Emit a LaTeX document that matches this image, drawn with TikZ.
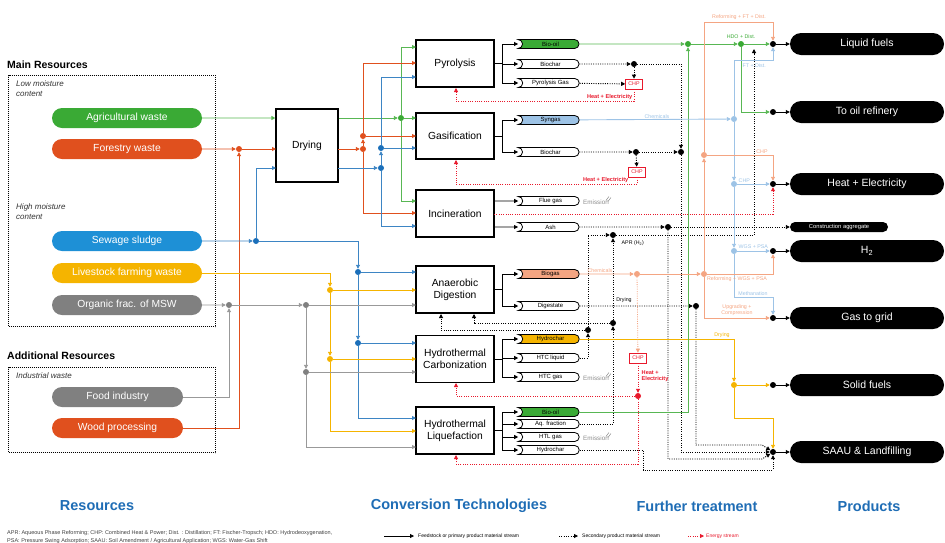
\documentclass[tikz,border=0pt]{standalone}
\usepackage{fontspec}
\setmainfont{Liberation Sans}
\usetikzlibrary{arrows.meta,shapes.misc}
\definecolor{cgreen}{HTML}{3AAA35}
\definecolor{cred}{HTML}{E0501E}
\definecolor{cblue}{HTML}{1B6FBA}
\definecolor{csew}{HTML}{1E90D6}
\definecolor{cyel}{HTML}{F5B400}
\definecolor{cgray}{HTML}{808080}
\definecolor{clblue}{HTML}{9DC3E6}
\definecolor{csalm}{HTML}{F4A582}
\definecolor{cenergy}{HTML}{E8192C}
\definecolor{ctitle}{HTML}{1F6DB5}
\tikzset{
 res/.style={rounded rectangle, minimum width=150pt, minimum height=20pt, inner sep=0pt, text=white, font=\fontsize{10.3}{12}\selectfont},
 conv/.style={draw, line width=1.2pt, minimum width=78pt, minimum height=47pt, align=center, inner sep=1pt, font=\fontsize{10.3}{12}\selectfont},
 opill/.style={rounded rectangle, rounded rectangle left arc=concave, draw, line width=0.8pt, minimum width=61pt, minimum height=9pt, inner sep=0pt, font=\fontsize{6}{7}\selectfont},
 prod/.style={rounded rectangle, fill=black, text=white, minimum width=154pt, minimum height=22pt, inner sep=0pt, font=\fontsize{10.5}{12}\selectfont},
 jdot/.style={circle, fill=#1, inner sep=0pt, minimum size=6pt},
 jdot/.default=black,
 hd/.style={font=\bfseries\fontsize{10.5}{12}\selectfont, inner sep=0pt},
 dbox/.style={draw, line width=1pt, dash pattern=on 1pt off 1pt, inner sep=0pt},
 itl/.style={font=\itshape\fontsize{8}{10}\selectfont, align=left, inner sep=0pt, text=black!80},
 ttl/.style={font=\bfseries\fontsize{14.5}{16}\selectfont, text=ctitle},
 tl/.style={font=\fontsize{5.3}{6}\selectfont, inner sep=0.5pt},
 chpbox/.style={draw=cenergy, text=cenergy, fill=white, line width=0.6pt, font=\fontsize{5.3}{6}\selectfont, minimum width=17pt, minimum height=10pt, inner sep=1pt},
 lgreen/.style={draw=cgreen!85, line width=0.9pt},
 lred/.style={draw=cred, line width=0.9pt},
 lblue/.style={draw=cblue!85, line width=0.9pt},
 lyel/.style={draw=cyel, line width=0.9pt},
 lgray/.style={draw=cgray!80, line width=0.9pt},
 llb/.style={draw=clblue, line width=0.9pt},
 lsal/.style={draw=csalm, line width=0.9pt},
 lsec/.style={draw=black, line width=0.9pt, dash pattern=on 1pt off 1.3pt},
 lenergy/.style={draw=cenergy, line width=0.8pt, dash pattern=on 1pt off 1.3pt},
 lmain/.style={draw=black, line width=0.8pt},
 etxt/.style={text=cenergy, font=\bfseries\fontsize{5.6}{6.2}\selectfont, inner sep=0.5pt},
}
\begin{document}
\begin{tikzpicture}[x=1pt,y=-1pt,>={Triangle[length=4pt,width=4pt]}]
\useasboundingbox (0,0) rectangle (945,542);

% ---------- Resources ----------
\node[hd, anchor=west] (tmain) at (7,65) {Main Resources};
\node[dbox, minimum width=207pt, minimum height=251pt, anchor=north west] (mainbox) at (8,75) {};
\node[itl, anchor=north west] (lowm) at (16,80) {Low moisture\\content};
\node[itl, anchor=north west] (highm) at (16,203) {High moisture\\content};
\node[res, fill=cgreen] (agri) at (127,118) {Agricultural waste};
\node[res, fill=cred] (forest) at (127,149) {Forestry waste};
\node[res, fill=csew] (sew) at (127,241) {Sewage sludge};
\node[res, fill=cyel] (live) at (127,273) {Livestock farming waste};
\node[res, fill=cgray] (msw) at (127,305) {Organic frac. of MSW};
\node[hd, anchor=west] (tadd) at (7,356) {Additional Resources};
\node[dbox, minimum width=207pt, minimum height=85pt, anchor=north west] (addbox) at (8,367) {};
\node[itl, anchor=north west] (indw) at (16,372) {Industrial waste};
\node[res, fill=cgray, minimum width=131pt] (food) at (117.5,397) {Food industry};
\node[res, fill=cred, minimum width=131pt] (wood) at (117.5,428) {Wood processing};

% ---------- Conversion boxes ----------
\node[conv, minimum width=62pt, minimum height=73pt] (dry) at (307,145.5) {Drying};
\node[conv] (pyr) at (455,63.5) {Pyrolysis};
\node[conv, minimum height=46pt] (gas) at (455,136) {Gasification};
\node[conv] (inc) at (455,213.5) {Incineration};
\node[conv] (ad) at (455,289.5) {Anaerobic\\Digestion};
\node[conv] (htc) at (455,359) {Hydrothermal\\Carbonization};
\node[conv] (htl) at (455,430.5) {Hydrothermal\\Liquefaction};

% ---------- input routing ----------
% green
\draw[lgreen,->] (agri) -- (agri -| dry.west);
\node[jdot=cgreen] (gd1) at (401,118) {};
\draw[lgreen,->] (dry.east |- gd1) -- (gd1);
\draw[lgreen] (401,47) -- (gd1) -- (401,201);
\draw[lgreen,->] (401,47) -- (416,47);
\draw[lgreen,->] (gd1) -- (416,118);
\draw[lgreen,->] (401,201) -- (416,201);
% red
\node[jdot=cred] (rd0) at (239,149) {};
\draw[lred,->] (forest) -- (rd0);
\draw[lred,->] (wood) -| (rd0);
\draw[lred,->] (rd0) -- (276,149);
\node[jdot=cred] (rd1) at (363,149) {};
\node[jdot=cred] (rd2) at (363,136) {};
\draw[lred,->] (338,149) -- (rd1);
\draw[lred,->] (rd1) -- (rd2);
\draw[lred] (363,63) -- (rd2);
\draw[lred] (rd1) -- (363,213);
\draw[lred,->] (363,63) -- (416,63);
\draw[lred,->] (rd2) -- (416,136);
\draw[lred,->] (363,213) -- (416,213);
% blue
\node[jdot=cblue] (bd0) at (256,241) {};
\draw[lblue,->] (sew) -- (bd0);
\draw[lblue,->] (bd0) |- (276,168);
\node[jdot=cblue] (bd1) at (381,168) {};
\node[jdot=cblue] (bd2) at (381,148) {};
\draw[lblue,->] (338,168) -- (bd1);
\draw[lblue,->] (bd1) -- (bd2);
\draw[lblue] (381,77) -- (bd2);
\draw[lblue] (bd1) -- (381,226);
\draw[lblue,->] (381,77) -- (416,77);
\draw[lblue,->] (bd2) -- (416,148);
\draw[lblue,->] (381,226) -- (416,226);
\node[jdot=cblue] (bd3) at (358,272) {};
\node[jdot=cblue] (bd4) at (358,343) {};
\draw[lblue,->] (bd0) -| (bd3);
\draw[lblue,->] (bd3) -- (416,272);
\draw[lblue,->] (bd3) -- (bd4);
\draw[lblue,->] (bd4) -- (416,343);
\draw[lblue,->] (bd4) |- (416,418);
% yellow
\node[jdot=cyel] (yd1) at (330,290) {};
\node[jdot=cyel] (yd2) at (330,359) {};
\draw[lyel,->] (live) -| (yd1);
\draw[lyel,->] (yd1) -- (416,290);
\draw[lyel,->] (yd1) -- (yd2);
\draw[lyel,->] (yd2) -- (416,359);
\draw[lyel,->] (yd2) |- (416,431);
% gray
\node[jdot=cgray] (gy0) at (229,305) {};
\node[jdot=cgray] (gy1) at (306,305) {};
\node[jdot=cgray] (gy2) at (306,372) {};
\draw[lgray,->] (msw) -- (gy0);
\draw[lgray,->] (food) -| (gy0);
\draw[lgray,->] (gy0) -- (gy1);
\draw[lgray,->] (gy1) -- (416,305);
\draw[lgray,->] (gy1) -- (gy2);
\draw[lgray,->] (gy2) -- (416,372);
\draw[lgray,->] (gy2) |- (416,447);

% ---------- output pills ----------
\node[opill, fill=cgreen] (bio1) at (550.5,44) {Bio-oil};
\node[opill] (bch1) at (550.5,64) {Biochar};
\node[opill] (pgas) at (550.5,83) {Pyrolysis Gas};
\node[opill, fill=clblue] (syn) at (550.5,120) {Syngas};
\node[opill] (bch2) at (550.5,152) {Biochar};
\node[opill] (flue) at (550.5,201) {Flue gas};
\node[opill] (ash) at (550.5,227) {Ash};
\node[opill, fill=csalm] (biogas) at (550.5,274) {Biogas};
\node[opill] (dig) at (550.5,306) {Digestate};
\node[opill, fill=cyel] (hch1) at (550.5,339) {Hydrochar};
\node[opill] (htcl) at (550.5,358) {HTC liquid};
\node[opill] (htcg) at (550.5,377) {HTC gas};
\node[opill, fill=cgreen] (bio2) at (550.5,412) {Bio-oil};
\node[opill] (aq) at (550.5,424) {Aq. fraction};
\node[opill] (htlg) at (550.5,437) {HTL gas};
\node[opill] (hch2) at (550.5,450) {Hydrochar};

\draw[lmain,->] (pyr.east) -- ++(8,0) |- (bio1);
\draw[lmain,->] (pyr.east) -- ++(8,0) |- (bch1);
\draw[lmain,->] (pyr.east) -- ++(8,0) |- (pgas);
\draw[lmain,->] (gas.east) -- ++(8,0) |- (syn);
\draw[lmain,->] (gas.east) -- ++(8,0) |- (bch2);
\draw[lmain,->] (flue -| inc.east) -- (flue);
\draw[lmain,->] (ash -| inc.east) -- (ash);
\draw[lmain,->] (ad.east) -- ++(8,0) |- (biogas);
\draw[lmain,->] (ad.east) -- ++(8,0) |- (dig);
\draw[lmain,->] (htc.east) -- ++(8,0) |- (hch1);
\draw[lmain,->] (htc.east) -- ++(8,0) |- (htcl);
\draw[lmain,->] (htc.east) -- ++(8,0) |- (htcg);
\draw[lmain,->] (htl.east) -- ++(8,0) |- (bio2);
\draw[lmain,->] (htl.east) -- ++(8,0) |- (aq);
\draw[lmain,->] (htl.east) -- ++(8,0) |- (htlg);
\draw[lmain,->] (htl.east) -- ++(8,0) |- (hch2);

% ---------- products ----------
\node[prod] (liq) at (867,44) {Liquid fuels};
\node[prod] (ref) at (867,112) {To oil refinery};
\node[prod] (he) at (867,184) {Heat + Electricity};
\node[rounded rectangle, fill=black, text=white, minimum width=98pt, minimum height=10pt, inner sep=0pt, font=\fontsize{5.8}{6}\selectfont] (cagg) at (839,227) {Construction aggregate};
\node[prod] (h2) at (867,251) {H\textsubscript{2}};
\node[prod] (gtg) at (867,318) {Gas to grid};
\node[prod] (sol) at (867,385) {Solid fuels};
\node[prod] (saau) at (867,452) {SAAU \& Landfilling};
\foreach \n/\y in {liq/44,ref/112,he/184,h2/251,gtg/318,sol/385,saau/452}{
  \node[jdot] (d\n) at (773,\y) {};
  \draw[lmain,->] (d\n) -- (\n);
}

% ---------- CHP & energy ----------
\node[chpbox] (chp1) at (634,84) {CHP};
\node[chpbox] (chp2) at (637,172) {CHP};
\node[chpbox] (chp3) at (638,358) {CHP};
\node[jdot] (kd1) at (634,64) {};
\node[jdot] (kd2) at (681,152) {};
\node[jdot] (kd3) at (636,152) {};
\draw[lsec,->] (bch1) -- (kd1);
\draw[lsec,->] (pgas) -- (chp1);
\draw[lsec,->] (kd1) -- (chp1);
\draw[lsec,->] (kd1) -| (kd2);
\draw[lsec,->] (bch2) -- (kd3);
\draw[lsec,->] (kd3) -- (kd2);
\draw[lsec,->] (kd3) -- (chp2);
\draw[lenergy,->] (chp1.south) |- (456,101) -- (456,88);
\node[etxt, anchor=east] (he1) at (633,97) {Heat + Electricity};
\draw[lenergy,->] (chp2.south) |- (456,184) -- (456,160);
\node[etxt, anchor=east] (he2) at (629,180) {Heat + Electricity};
\draw[lenergy,->] (494,214) -| (dhe);

% emissions
\foreach \e/\y in {em1/201,em2/377,em3/437}{
  \node[font=\fontsize{6.3}{7}\selectfont, text=black!45, anchor=west, inner sep=0pt] (\e) at (583,\y+1) {Emission};
  \draw[black!45, line width=0.5pt] (\e.north east) ++(-3,1) -- ++(3,-4);
  \draw[black!45, line width=0.5pt] (\e.north east) ++(-1,2) -- ++(3,-4);
}

% ash & APR
\node[jdot] (kd4) at (668,227) {};
\draw[lsec,->] (ash) -- (kd4);
\draw[lsec,->] (kd4) -- (cagg);
\node[jdot] (kd5) at (613,235) {};
\node[jdot] (kd6) at (588,330) {};
\node[jdot] (kd7) at (613,323) {};
\draw[lsec,->] (htcl) -| (kd6);
\draw[lsec,->] (kd6) |- (kd5);
\draw[lsec,->] (aq) -| (kd7);
\draw[lsec,->] (kd7) -- (kd5);
\draw[lsec,->] (kd6) -- (441,330) -- (441,314);
\draw[lsec,->] (kd7) -- (474,323) -- (474,314);
\node[tl, anchor=west] (apr) at (621,243) {APR (H\textsubscript{2})};
\coordinate (aprend) at (754,49);
\draw[lsec,->] (kd5) -| (aprend);

% digestate
\node[jdot] (kdig) at (696,306) {};
\draw[lsec,->] (dig) -- (kdig);
\node[tl] (dry2) at (624,300) {Drying};

% to SAAU
\draw[lsec,->] (kdig) |- (762,445) -- (dsaau);
\draw[lsec,->] (kd2) |- (dsaau);
\draw[lsec,->] (kd4) |- (762,459) -- (dsaau);
\draw[lsec,->] (hch2) -| (643,470) -| (dsaau);

% yellow hydrochar
\node[jdot=cyel] (yd3) at (734,385) {};
\draw[lyel,->] (hch1) -| (yd3);
\node[tl, text=cyel, anchor=south] (dry3) at (722,338) {Drying};
\draw[lyel,->] (yd3) -- (dsol);
\draw[lyel,->] (yd3) |- (773,418) -- (dsaau);

% green bio-oil
\node[jdot=cgreen] (gd2) at (688,44) {};
\node[jdot=cgreen] (gd3) at (741,44) {};
\draw[lgreen,->] (bio1) -- (gd2);
\draw[lgreen,->] (bio2) -| (gd2);
\draw[lgreen,->] (gd2) -- (gd3);
\draw[lgreen,->] (gd3) -- (dliq);
\draw[lgreen,->] (gd3) |- (dref);
\node[tl, text=cgreen, anchor=south] (hdo) at (741,39) {HDO + Dist.};

% light blue syngas
\node[jdot=clblue] (lb1) at (734,119) {};
\node[jdot=clblue] (lb2) at (734,184) {};
\node[jdot=clblue] (lb3) at (734,251) {};
\draw[llb,->] (syn) -- (lb1);
\node[tl, text=clblue, anchor=south] (chem1) at (657,119) {Chemicals};
\draw[llb,->] (lb1) |- (773,60) -- (dliq);
\node[tl, text=clblue, anchor=west] (ftd) at (742,66) {FT + Dist.};
\draw[llb,->] (lb1) -- (lb2);
\draw[llb,->] (lb2) -- (dhe);
\node[tl, text=clblue, anchor=south west] (chp4) at (738,183) {CHP};
\draw[llb,->] (lb2) -- (lb3);
\draw[llb,->] (lb3) -- (dh2);
\node[tl, text=clblue, anchor=south west] (wgs) at (738,249) {WGS + PSA};
\draw[llb,->] (lb3) |- (773,297) -- (dgtg);
\node[tl, text=clblue, anchor=south] (meth) at (753,296) {Methanation};

% salmon biogas
\node[jdot=csalm] (sd1) at (637,274) {};
\node[jdot=csalm] (sd2) at (704,274) {};
\node[jdot=csalm] (sd3) at (704,155) {};
\draw[lsal,->] (biogas) -- (sd1);
\node[tl, text=csalm, anchor=south] (chem2) at (600,273) {Chemicals};
\draw[lsal,->] (sd1) -- (sd2);
\draw[lsal,->] (sd2) -- (sd3);
\draw[lsal,->] (sd3) |- (773,22) -- (dliq);
\node[tl, text=csalm, anchor=south] (rfd) at (739,20) {Reforming + FT + Dist.};
\draw[lsal,->] (sd3) -| (dhe);
\node[tl, text=csalm, anchor=south] (chp5) at (762,154) {CHP};
\draw[lsal,->] (sd2) -| (dh2);
\node[tl, text=csalm, anchor=north] (rwp) at (737,276) {Reforming + WGS + PSA};
\draw[lsal,->] (sd2) |- (dgtg);
\node[tl, text=csalm, anchor=south, align=center, font=\fontsize{5.3}{5.3}\selectfont] (upg) at (737,316) {Upgrading +\\Compression};
\draw[draw=csalm, line width=0.8pt, dash pattern=on 1pt off 1.3pt, ->] (sd1) -- (chp3);

% HTC/HTL energy
\node[jdot=cenergy] (ed1) at (638,396) {};
\draw[lenergy,->] (chp3) -- (ed1);
\node[etxt, anchor=west, align=left] (he3) at (641,376) {Heat +\\Electricity};
\draw[lenergy,->] (ed1) -- (456,396) -- (456,383);
\draw[lenergy,->] (ed1) |- (456,464) -- (456,455);

% ---------- titles ----------
\node[ttl] (t1) at (97,506) {Resources};
\node[ttl] (t2) at (459,506) {Conversion Technologies};
\node[ttl] (t3) at (697,506) {Further treatment};
\node[ttl] (t4) at (869,506) {Products};

% footnote
\node[anchor=west, inner sep=0pt, font=\fontsize{5.5}{6}\selectfont, text=black!75] (fn1) at (7,533) {APR: Aqueous Phase Reforming; CHP: Combined Heat \& Power; Dist. : Distillation; FT: Fischer-Tropsch; HDO: Hydrodeoxygenation,};
\node[anchor=west, inner sep=0pt, font=\fontsize{5.5}{6}\selectfont, text=black!75] (fn2) at (7,541) {PSA: Pressure Swing Adsorption; SAAU: Soil Amendment / Agricultural Application; WGS: Water-Gas Shift};

% legend
\coordinate (la1) at (384,536); \coordinate (la2) at (414,536);
\draw[lmain,->] (la1) -- (la2);
\node[anchor=west, inner sep=0pt, font=\fontsize{5}{6}\selectfont] (lt1) at (418,536) {Feedstock or primary product material stream};
\coordinate (lb1a) at (559,536); \coordinate (lb2a) at (578,536);
\draw[lsec,->] (lb1a) -- (lb2a);
\node[anchor=west, inner sep=0pt, font=\fontsize{5}{6}\selectfont] (lt2) at (582,536) {Secondary product material stream};
\coordinate (lc1) at (688,536); \coordinate (lc2) at (704,536);
\draw[lenergy,->] (lc1) -- (lc2);
\node[anchor=west, inner sep=0pt, font=\fontsize{5}{6}\selectfont, text=cenergy] (lt3) at (706,536) {Energy stream};
\end{tikzpicture}
\end{document}
